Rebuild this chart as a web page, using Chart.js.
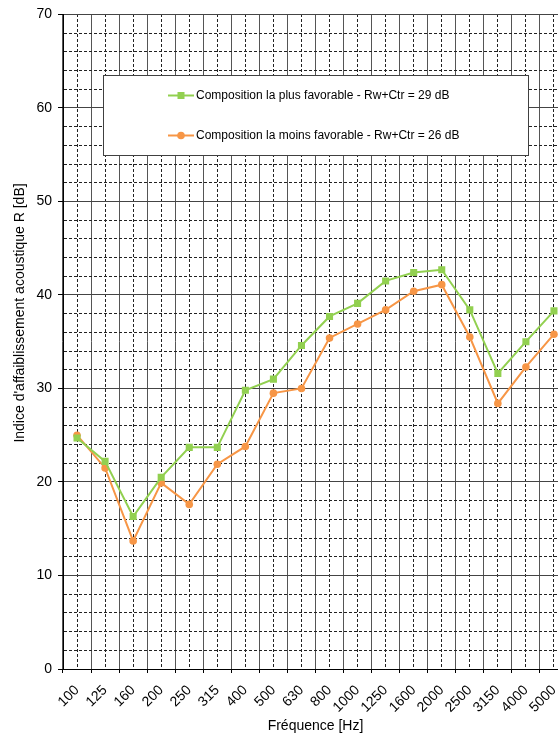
<!DOCTYPE html>
<html>
<head>
<meta charset="utf-8">
<title>Indice d'affaiblissement acoustique</title>
<script src="https://cdn.jsdelivr.net/npm/chart.js@4.4.1/dist/chart.umd.min.js"></script>
<style>
  html, body { margin: 0; padding: 0; background: #fff; overflow: hidden; }
  #wrap { width: 580px; height: 737px; }
</style>
</head>
<body>
<div id="wrap"><canvas id="chart" width="580" height="737"></canvas></div>
<script>
// tiers d'octave, 100 Hz -> 5000 Hz
const frequencies = ["100", "125", "160", "200", "250", "315", "400", "500", "630",
    "800", "1000", "1250", "1600", "2000", "2500", "3150", "4000", "5000"];

// R en dB
const plusFavorable = [24.7, 22.2, 16.3, 20.5, 23.7, 23.7, 29.8, 31.0, 34.6,
    37.7, 39.1, 41.5, 42.4, 42.7, 38.4, 31.6, 35.0, 38.3];
const moinsFavorable = [25.0, 21.5, 13.7, 19.9, 17.6, 21.9, 23.8, 29.5, 30.0,
    35.4, 36.9, 38.4, 40.4, 41.1, 35.5, 28.4, 32.3, 35.8];

const seriesNames = [
    "Composition la plus favorable - Rw+Ctr = 29 dB",
    "Composition la moins favorable - Rw+Ctr = 26 dB"
];
const yTickLabels = [0, 10, 20, 30, 40, 50, 60, 70];

const yTitle = "Indice d'affaiblissement acoustique R [dB]";
const xTitle = "Fréquence [Hz]";

const green = "#92D050";
const orange = "#F79646";

Chart.defaults.font.family = "'Liberation Sans', Arial, sans-serif";
Chart.defaults.color = "#000";

// legende encadree dans la zone de trace + titre vertical
const boxLegend = {
    id: "boxLegend",
    afterDraw(chart) {
        const ctx = chart.ctx;
        ctx.save();
        ctx.fillStyle = "#fff";
        ctx.strokeStyle = "#404040";
        ctx.lineWidth = 1;
        ctx.fillRect(103.5, 75.5, 425, 80);
        ctx.strokeRect(103.5, 75.5, 425, 80);

        chart.data.datasets.forEach((ds, i) => {
            const y = 95.5 + i * 40;
            ctx.strokeStyle = ds.borderColor;
            ctx.lineWidth = 2;
            ctx.beginPath();
            ctx.moveTo(168, y);
            ctx.lineTo(194, y);
            ctx.stroke();
            ctx.fillStyle = ds.backgroundColor;
            if (ds.pointStyle === "rect") {
                ctx.fillRect(177.5, y - 3.5, 7, 7);
            } else {
                ctx.beginPath();
                ctx.arc(181, y, 3.8, 0, Math.PI * 2);
                ctx.fill();
            }
            ctx.fillStyle = "#000";
            ctx.font = "12px 'Liberation Sans', Arial, sans-serif";
            ctx.textBaseline = "middle";
            ctx.textAlign = "left";
            ctx.fillText(ds.label, 196, y);
        });

        ctx.translate(20, 313);
        ctx.rotate(-Math.PI / 2);
        ctx.font = "14px 'Liberation Sans', Arial, sans-serif";
        ctx.textAlign = "center";
        ctx.textBaseline = "middle";
        ctx.fillStyle = "#000";
        ctx.fillText(yTitle, 0, 0);
        ctx.restore();
    }
};

const isMajor = (ctx) => ctx.tick && yTickLabels.includes(ctx.tick.value);

new Chart(document.getElementById("chart"), {
    type: "line",
    data: {
        labels: frequencies,
        datasets: [
            {
                label: seriesNames[0],
                data: plusFavorable,
                borderColor: green,
                backgroundColor: green,
                borderWidth: 2,
                pointStyle: "rect",
                pointRadius: 5,
                pointBorderWidth: 0,
                tension: 0
            },
            {
                label: seriesNames[1],
                data: moinsFavorable,
                borderColor: orange,
                backgroundColor: orange,
                borderWidth: 2,
                pointStyle: "circle",
                pointRadius: 3.8,
                pointBorderWidth: 0,
                tension: 0
            }
        ]
    },
    options: {
        responsive: false,
        animation: false,
        layout: { padding: { top: 13, right: 12, left: 0, bottom: 0 } },
        plugins: {
            legend: { display: false },
            tooltip: { enabled: false }
        },
        scales: {
            x: {
                type: "category",
                position: "bottom",
                offset: true,
                grid: {
                    offset: true,
                    color: "#555",
                    tickColor: "#000",
                    tickLength: 4
                },
                border: { color: "#000", width: 1 },
                ticks: {
                    maxRotation: 45,
                    minRotation: 45,
                    autoSkip: false,
                    padding: 9,
                    font: { size: 14 }
                },
                title: {
                    display: true,
                    text: xTitle,
                    font: { size: 14 },
                    padding: { top: 0, bottom: 2 }
                },
                afterFit(scale) { scale.height = 68; }
            },
            x2: {
                type: "category",
                position: "top",
                offset: true,
                grid: {
                    offset: false,
                    color: "#222",
                    drawTicks: false
                },
                border: { display: false, dash: [3, 2] },
                ticks: { display: false },
                afterFit(scale) { scale.height = 0; }
            },
            y: {
                min: 0,
                max: 70,
                grid: {
                    color: (ctx) => isMajor(ctx) ? "#444" : "#222",
                    tickColor: (ctx) => isMajor(ctx) ? "#000" : "rgba(0,0,0,0)",
                    tickLength: 5
                },
                border: {
                    color: "#000",
                    width: 1,
                    dash: (ctx) => ctx.tick && !isMajor(ctx) ? [3, 2] : []
                },
                ticks: {
                    stepSize: 2,
                    autoSkip: false,
                    padding: 6,
                    font: { size: 14 },
                    callback: (v) => yTickLabels.includes(v) ? String(v) : ""
                },
                afterFit(scale) { scale.width = 63; }
            }
        }
    },
    plugins: [boxLegend]
});
</script>
</body>
</html>
